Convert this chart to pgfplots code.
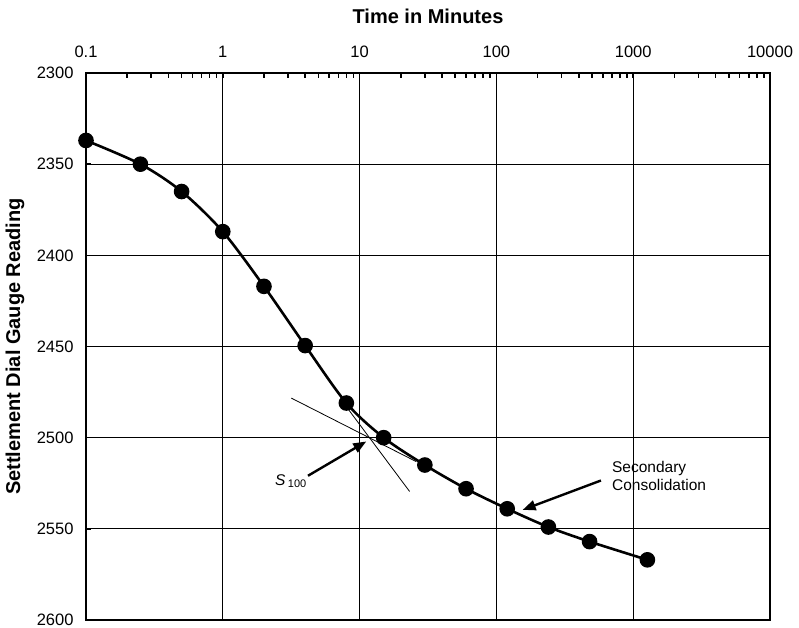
\documentclass[border=0pt]{standalone}
\usepackage{pgfplots}
\pgfplotsset{compat=1.18}
\usepackage{fontspec}
\setmainfont{Liberation Sans}
\usetikzlibrary{arrows.meta}
\begin{document}
\begin{tikzpicture}
\begin{axis}[
  name=ax,
  scale only axis,
  width=684pt, height=547pt,
  xmode=log,
  xmin=0.1, xmax=10000,
  ymin=2300, ymax=2600,
  y dir=reverse,
  xtick={0.1,1,10,100,1000,10000},
  xticklabels={0.1,1,10,100,1000,10000},
  minor xtick={0.2,0.3,0.4,0.5,0.6,0.7,0.8,0.9,2,3,4,5,6,7,8,9,20,30,40,50,60,70,80,90,200,300,400,500,600,700,800,900,2000,3000,4000,5000,6000,7000,8000,9000},
  ytick={2300,2350,2400,2450,2500,2550,2600},
  yticklabels={2300,2350,2400,2450,2500,2550,2600},
  xticklabel pos=upper,
  xtick pos=upper,
  ytick pos=left,
  tick align=inside,
  major tick length=5pt,
  minor tick length=5pt,
  every tick/.style={black, line width=1.6pt},
  grid=major,
  major grid style={black, line width=1.3pt},
  axis line style={line width=2.6pt},
  /pgf/number format/assume math mode=true,
  tick label style={font=\fontsize{16.5}{19}\selectfont},
  xticklabel style={anchor=base, yshift=16pt},
  yticklabel style={xshift=-9pt},
  xlabel={Time in Minutes},
  ylabel={Settlement Dial Gauge Reading},
  label style={font=\fontsize{20}{24}\selectfont\bfseries},
  xlabel style={at={(rel axis cs:0.5,1)}, anchor=base, yshift=50pt},
  ylabel style={at={(rel axis cs:0,0.5)}, anchor=center, yshift=71pt},
  clip=false,
]
\addplot[black, line width=2.6pt, smooth, tension=0.5, mark=*, mark size=6.5pt, mark options={solid, fill=black}]
coordinates {
(0.1,2337) (0.25,2350) (0.5,2365) (1,2387) (2,2417) (4,2449.5) (8,2481) (15,2500) (30,2515) (60,2528) (120,2539) (240,2549) (480,2557) (1270,2567)
};
\addplot[black, line width=0.8pt] coordinates {(3.17,2478.3) (25.9,2513.1)};
\addplot[black, line width=0.8pt] coordinates {(8.0,2483) (23.2,2529.5)};
\draw[black, line width=2.4pt, -{Triangle[length=13pt,width=10pt]}] (axis cs:4.195,2520.9) -- (axis cs:11.19,2502.1);
\draw[black, line width=2.4pt, -{Triangle[length=13pt,width=10pt]}] (axis cs:581,2523.5) -- (axis cs:155.6,2539.6);
\node[anchor=base west, inner sep=0pt, font=\fontsize{15.5}{18}\selectfont] at (axis cs:2.40,2526.4) {\textit{S}\,\raisebox{-2pt}{\fontsize{11}{13}\selectfont 100}};
\node[anchor=west, inner sep=0pt, align=left, font=\fontsize{15.5}{18.5}\selectfont] at (axis cs:699,2521) {Secondary\\Consolidation};
\end{axis}
\pgfresetboundingbox
\path[use as bounding box] ([shift={(-86pt,-8pt)}]ax.south west) rectangle ([shift={(29pt,73pt)}]ax.north east);
\end{tikzpicture}
\end{document}
